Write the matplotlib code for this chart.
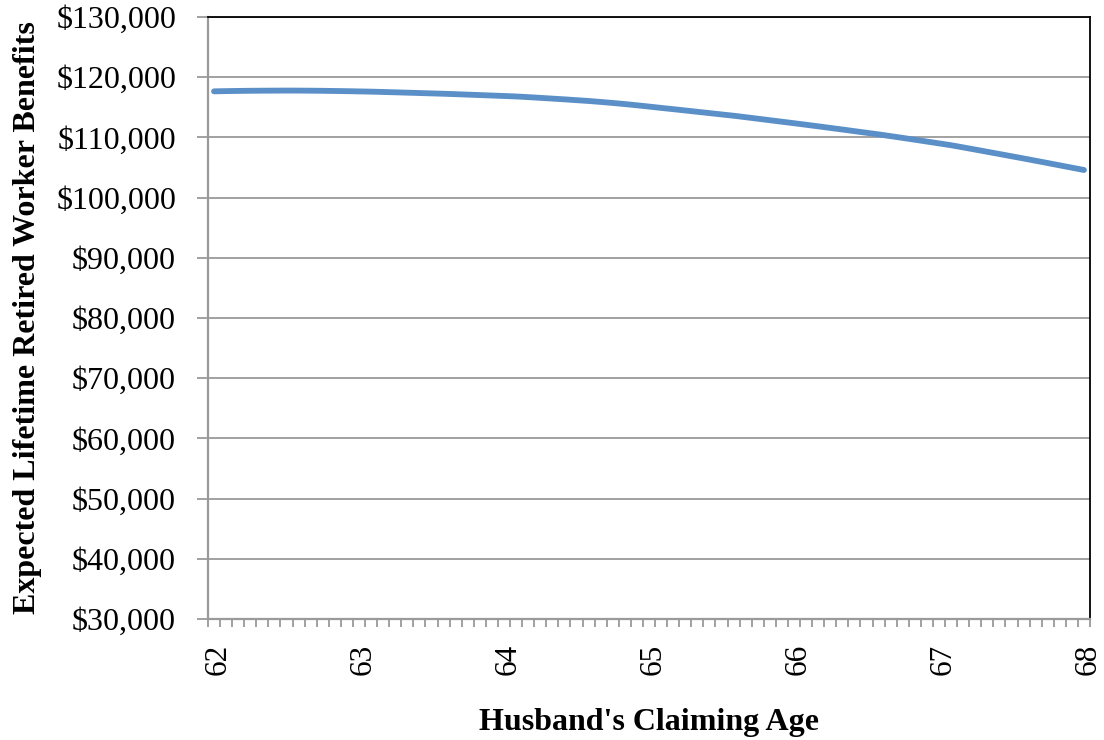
import numpy as np
import matplotlib
matplotlib.use("Agg")
import matplotlib.pyplot as plt
import matplotlib.transforms as mtransforms
from matplotlib.ticker import FuncFormatter

# Claiming ages by month, 62 through 68
year_labels = ["62", "63", "64", "65", "66", "67", "68"]
n_months = 73

# Expected lifetime retired worker benefits ($) for each monthly claiming age
benefits = [
    117650, 117690, 117720, 117745, 117760, 117770, 117780,
    117775, 117760, 117740, 117710, 117680, 117640, 117600,
    117545, 117490, 117430, 117370, 117310, 117250,
    117180, 117105, 117030, 116955, 116880, 116800,
    116690, 116570, 116445, 116320, 116185, 116050,
    115890, 115720, 115535, 115335, 115120, 114900,
    114690, 114475, 114255, 114035, 113815, 113600,
    113355, 113105, 112855, 112605, 112355, 112100,
    111840, 111575, 111310, 111040, 110770, 110500,
    110210, 109915, 109615, 109310, 109005, 108700,
    108340, 107975, 107610, 107240, 106870, 106500,
    106120, 105740, 105355, 104970, 104585, 104200,
]
# keep the series length in step with the axis categories
benefits = benefits[:n_months]

plt.rcParams["font.family"] = ["Liberation Serif", "DejaVu Serif"]

fig = plt.figure(figsize=(11.04, 7.40), dpi=100)
ax = fig.add_axes([208 / 1104, 1 - 619 / 740, (1090 - 208) / 1104, (619 - 17) / 740])

x = np.arange(len(benefits))
ax.plot(x, benefits, color="#5B8FC8", lw=4.2, solid_capstyle="round",
        solid_joinstyle="round", zorder=3)

ax.set_xlim(-0.5, n_months - 0.5)
ax.set_ylim(30000, 130000)

grid_gray = "#9A9A9A"
ax.set_yticks(np.arange(30000, 130001, 10000))
ax.yaxis.set_major_formatter(FuncFormatter(lambda v, p: f"${v:,.0f}"))
ax.grid(axis="y", color=grid_gray, lw=1.3, zorder=1)
ax.set_axisbelow(True)

ax.set_xticks(np.arange(0, n_months, 12))
ax.set_xticklabels(year_labels, rotation=90)
ax.set_xticks(np.arange(-0.5, n_months, 1), minor=True)

ax.tick_params(axis="x", which="major", length=0, pad=18, labelsize=22.5)
ax.tick_params(axis="x", which="minor", length=6, width=1.3, color=grid_gray,
               direction="out")
ax.tick_params(axis="y", which="major", length=8, width=1.3, color=grid_gray,
               direction="out", labelsize=23, pad=15)

# nudge the rotated year labels slightly to the right
shift = mtransforms.ScaledTranslation(4 / 100, 0, fig.dpi_scale_trans)
for lbl in ax.get_xticklabels():
    lbl.set_transform(lbl.get_transform() + shift)

for side in ("left", "bottom"):
    ax.spines[side].set_color(grid_gray)
    ax.spines[side].set_linewidth(1.6)
for side in ("top", "right"):
    ax.spines[side].set_color("black")
    ax.spines[side].set_linewidth(1.3)

ax.set_xlabel("Husband's Claiming Age", fontsize=23, fontweight="bold")
ax.set_ylabel("Expected Lifetime Retired Worker Benefits", fontsize=23,
              fontweight="bold")
ax.xaxis.set_label_coords(0.5, -0.148)
ax.yaxis.set_label_coords(-0.188, 0.5)

fig.savefig("out.png", dpi=100, facecolor="white")
